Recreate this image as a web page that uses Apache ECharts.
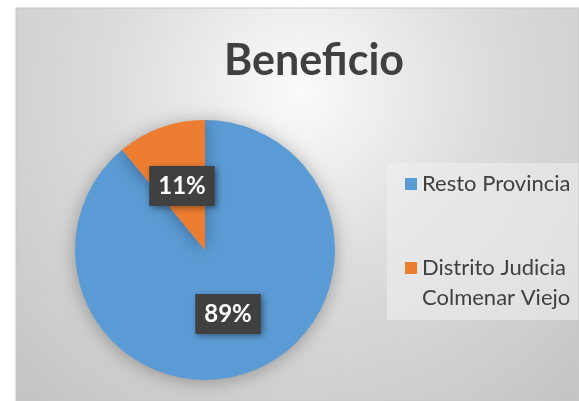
<!DOCTYPE html>
<html>
<head>
<meta charset="utf-8">
<script src="https://cdn.jsdelivr.net/npm/echarts@6/dist/echarts.min.js"></script>
<style>
  html, body { margin: 0; padding: 0; background: #fff; }
  #chart { width: 579px; height: 401px; }
</style>
</head>
<body>
<div id="chart"></div>
<script>
    var categories = ['Resto Provincia', 'Distrito Judicia\nColmenar Viejo'];
    var values = [89, 11];
    var colors = ['#5b9bd5', '#ed7d31'];

    var chart = echarts.init(document.getElementById('chart'));

    var pieData = categories.map(function (name, i) {
        return { name: name, value: values[i], itemStyle: { color: colors[i] } };
    });

    // legend text: first line sits next to the square, like the office chart
    function legendText(name) {
        var lines = name.split('\n');
        var out = lines.map(function (l) { return '{a|' + l + '}'; });
        // empty lines on top balance the extra ones below
        for (var i = 1; i < lines.length; i++) out.unshift('{e| }');
        return out.join('\n');
    }

    chart.setOption({
        animation: false,
        graphic: [{
            type: 'rect',
            z: -10,
            shape: { x: 16, y: 8, width: 563, height: 393 },
            style: {
                fill: {
                    type: 'radial', global: true, x: 300, y: 90, r: 420,
                    colorStops: [
                        { offset: 0, color: '#fbfbfb' },
                        { offset: 0.45, color: '#dcdcdc' },
                        { offset: 1, color: '#c4c4c4' }
                    ]
                },
                stroke: '#c8c8c8',
                lineWidth: 1
            }
        }],
        title: {
            text: 'Beneficio',
            left: 309,
            textAlign: 'center',
            top: 35,
            textStyle: { fontFamily: 'Lato', fontWeight: 'bold', fontSize: 43, color: '#404040' }
        },
        legend: {
            orient: 'vertical',
            left: 387,
            top: 163,
            padding: [10, 8, 11, 18],
            backgroundColor: 'rgba(240,240,240,0.55)',
            itemWidth: 12,
            itemHeight: 12,
            itemGap: 32,
            icon: 'rect',
            data: categories,
            formatter: legendText,
            textStyle: {
                rich: {
                    a: { fontFamily: 'Lato', fontSize: 22, color: '#404040', lineHeight: 30 },
                    e: { fontFamily: 'Lato', fontSize: 22, lineHeight: 30 }
                }
            }
        },
        series: [{
            type: 'pie',
            center: [205, 250],
            radius: [0, 130],
            startAngle: 90,
            data: pieData,
            itemStyle: { shadowBlur: 18, shadowColor: 'rgba(0,0,0,0.3)', shadowOffsetY: 2 },
            label: {
                position: 'inside',
                formatter: '{c}%',
                color: '#ffffff',
                fontFamily: 'Lato',
                fontWeight: 'bold',
                fontSize: 24,
                lineHeight: 26,
                backgroundColor: '#404040',
                padding: [8, 9, 6, 9],
                shadowBlur: 6,
                shadowColor: 'rgba(0,0,0,0.4)',
                shadowOffsetX: 2,
                shadowOffsetY: 2
            },
            labelLine: { show: false },
            emphasis: { disabled: true }
        }]
    });
</script>
</body>
</html>
